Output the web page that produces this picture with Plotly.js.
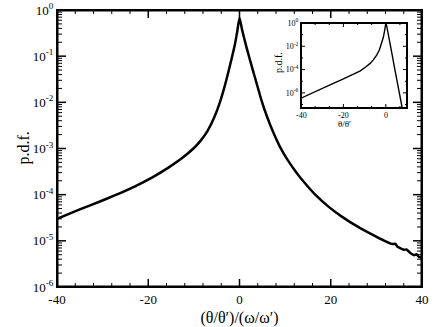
<!DOCTYPE html>
<html>
<head>
<meta charset="utf-8">
<script src="https://cdn.plot.ly/plotly-3.0.1.min.js"></script>
<style>
html,body{margin:0;padding:0;background:#fff;}
#wrap{position:relative;width:436px;height:327px;}
#chart,#inset{position:absolute;left:0;top:0;width:436px;height:327px;}
</style>
</head>
<body>
<div id="wrap"><div id="chart"></div><div id="inset"></div></div>
<script>
// Main curve: pdf of (theta/theta')/(omega/omega')
const mainX = [-40, -35, -31, -27.5, -23, -19, -15.5, -12.5, -10.1, -8.5, -7.0, -5.5, -4.3, -3.3, -2.4, -1.6, -1.0, -0.5, 0,
  0.5, 1.0, 1.6, 2.2, 3.0, 3.9, 4.8, 6.0, 7.4, 8.9, 10.5, 12.5, 14.5, 16.6, 19.5, 22.5, 26, 29, 31.8,
  33.5, 34.2, 34.6, 35, 36, 36.6, 37.5, 38.3, 38.8, 39.3, 39.7, 40];
const mainY = [3.0e-5, 4.8e-5, 6.84e-5, 9.5e-5, 1.5e-4, 2.4e-4, 3.9e-4, 6.3e-4, 1.0e-3, 1.48e-3, 2.4e-3, 4.8e-3, 0.01, 0.0214, 0.047, 0.1, 0.182, 0.34, 0.68,
  0.40, 0.25, 0.148, 0.089, 0.047, 0.0229, 0.0112, 5.0e-3, 2.24e-3, 1.07e-3, 5.75e-4, 3.0e-4, 1.7e-4, 1.0e-4, 5.5e-5, 3.3e-5, 2.0e-5, 1.38e-5, 1.0e-5,
  8.5e-6, 8.6e-6, 7.5e-6, 7.1e-6, 6.4e-6, 6.5e-6, 5.4e-6, 4.9e-6, 5.1e-6, 4.5e-6, 4.4e-6, 3.9e-6];

// Inset curve: pdf of theta/theta'
const insetX = [-40, -35, -30, -25, -20, -15, -12, -9.5, -7.4, -5.8, -4.3, -3.0, -2.0, -1.2, -0.5, -0.15, 0, 0.4, 1.0, 2.0, 3.0, 4.0, 5.0, 6.0, 7.0, 7.7, 8.0];
const insetY = [3.5e-7, 9.5e-7, 2.5e-6, 6.3e-6, 1.6e-5, 4.2e-5, 7.9e-5, 1.66e-4, 3.4e-4, 7.1e-4, 1.74e-3, 5.0e-3, 0.0158, 0.056, 0.25, 0.6, 0.95, 0.6, 0.18, 0.018, 1.8e-3, 1.9e-4, 2.0e-5, 2.0e-6, 2.3e-7, 5.5e-8, 2.8e-8];

// Tick labels
const mainXTicks = [-40, -20, 0, 20, 40];
const mainYExp = [-6, -5, -4, -3, -2, -1, 0];
const insetXTicks = [-40, -20, 0];
const insetYExp = [-6, -4, -2, 0];

const font = 'Liberation Serif, Times New Roman, serif';
const pow = e => Math.pow(10, e);
const powLabel = e => '10<sup>' + e + '</sup>';

// ---- axis decoration (tick marks on four sides + frame), built from the axis ranges ----
function tickTraces(xr, yr, pw, ph, xMaj, xMin, yMajLog, yMinLog, lens, majW) {
  const dxPx = (xr[1] - xr[0]) / pw, dyPx = (yr[1] - yr[0]) / ph;
  function seg(vx, vy, lenX, lenY) {
    const X = [], Y = [];
    vx.forEach(v => {
      X.push(v, v, null, v, v, null);
      Y.push(pow(yr[0]), pow(yr[0] + lenX * dyPx), null, pow(yr[1]), pow(yr[1] - lenX * dyPx), null);
    });
    vy.forEach(lv => {
      if (lv < yr[0] || lv > yr[1]) return;
      X.push(xr[0], xr[0] + lenY * dxPx, null, xr[1], xr[1] - lenY * dxPx, null);
      Y.push(pow(lv), pow(lv), null, pow(lv), pow(lv), null);
    });
    return {X, Y};
  }
  const maj = seg(xMaj, yMajLog, lens[0], lens[2]);
  const min = seg(xMin, yMinLog, lens[1], lens[3]);
  const base = {type: 'scatter', mode: 'lines', hoverinfo: 'skip', connectgaps: false, showlegend: false};
  return [
    Object.assign({}, base, {x: maj.X, y: maj.Y, line: {color: '#000000', width: majW}}),
    Object.assign({}, base, {x: min.X, y: min.Y, line: {color: '#000000', width: 1}}),
    Object.assign({}, base, {x: [xr[0], xr[1], xr[1], xr[0], xr[0]], y: [pow(yr[0]), pow(yr[0]), pow(yr[1]), pow(yr[1]), pow(yr[0])], line: {color: '#000000', width: majW * 2}})
  ];
}

const mainXRange = [-40, 40], mainYRange = [-6, 0];
const mainXMinor = [];
for (let v = -36; v < 40; v += 4) if (v % 20 !== 0) mainXMinor.push(v);
const mainYMinor = [];
for (let e = -6; e < 0; e++) for (let d = 2; d <= 9; d++) mainYMinor.push(e + Math.log10(d));

const insetXRange = [-40, 10], insetYRange = [-7.3, 0];
const insetXMinor = [-40 + 20 / 3, -40 + 40 / 3, -20 + 20 / 3, -20 + 40 / 3, 20 / 3];
const insetYMinor = [-7, -5, -3, -1];

const mainTraces = [
  {x: mainX, y: mainY, type: 'scatter', mode: 'lines', line: {color: '#000000', width: 2.5, shape: 'spline', smoothing: 0.5}, hoverinfo: 'skip'}
].concat(tickTraces(mainXRange, mainYRange, 365, 277, mainXTicks, mainXMinor, mainYExp, mainYMinor, [8, 4, 9, 5], 1.5));

const insetTraces = [
  {x: insetX, y: insetY, type: 'scatter', mode: 'lines', line: {color: '#000000', width: 1.4}, hoverinfo: 'skip'}
].concat(tickTraces(insetXRange, insetYRange, 106, 85, insetXTicks, insetXMinor, insetYExp, insetYMinor, [4, 2, 4, 2], 1));

const mainLayout = {
  width: 436, height: 327,
  margin: {l: 57, r: 14, t: 10, b: 40},
  showlegend: false,
  font: {family: font, color: '#000000', size: 13},
  xaxis: {
    range: mainXRange, tickmode: 'array', tickvals: mainXTicks, ticktext: mainXTicks.map(String),
    ticks: '', showline: true, linewidth: 1, linecolor: '#000000', mirror: true,
    showgrid: false, zeroline: false,
    title: {text: '(θ/θ′)/(ω/ω′)', font: {size: 16}}
  },
  yaxis: {
    type: 'log', range: mainYRange, tickmode: 'array', tickvals: mainYExp.map(pow), ticktext: mainYExp.map(powLabel),
    ticks: '', showline: true, linewidth: 1, linecolor: '#000000', mirror: true,
    showgrid: false, zeroline: false
  },
  annotations: [
    {text: 'p.d.f.', xref: 'paper', yref: 'paper', x: -0.093, y: 0.5, xanchor: 'center', yanchor: 'middle', textangle: -90, showarrow: false, font: {size: 16}}
  ]
};

const insetLayout = {
  width: 436, height: 327,
  margin: {l: 301, r: 29, t: 23, b: 219},
  paper_bgcolor: 'rgba(0,0,0,0)', plot_bgcolor: 'white',
  showlegend: false,
  font: {family: font, color: '#000000', size: 8},
  xaxis: {
    range: insetXRange, showticklabels: false,
    ticks: '', showline: true, linewidth: 1, linecolor: '#000000', mirror: true,
    showgrid: false, zeroline: false
  },
  yaxis: {
    type: 'log', range: insetYRange, tickmode: 'array', tickvals: insetYExp.map(pow), ticktext: insetYExp.map(powLabel),
    ticks: '', showline: true, linewidth: 1, linecolor: '#000000', mirror: true,
    showgrid: false, zeroline: false
  },
  annotations: insetXTicks.map(v => ({
    text: String(v), xref: 'x', yref: 'paper', x: v, y: -0.015, xanchor: 'center', yanchor: 'top', showarrow: false, font: {size: 8}
  })).concat([
    {text: 'p.d.f.', xref: 'paper', yref: 'paper', x: -0.217, y: 0.54, xanchor: 'center', yanchor: 'middle', textangle: -90, showarrow: false, font: {size: 10}},
    {text: 'θ/θ′', xref: 'paper', yref: 'paper', x: 0.415, y: -0.1, xanchor: 'center', yanchor: 'top', showarrow: false, font: {size: 9}}
  ])
};

Plotly.newPlot('chart', mainTraces, mainLayout, {staticPlot: true, displayModeBar: false});
Plotly.newPlot('inset', insetTraces, insetLayout, {staticPlot: true, displayModeBar: false});
</script>
</body>
</html>
